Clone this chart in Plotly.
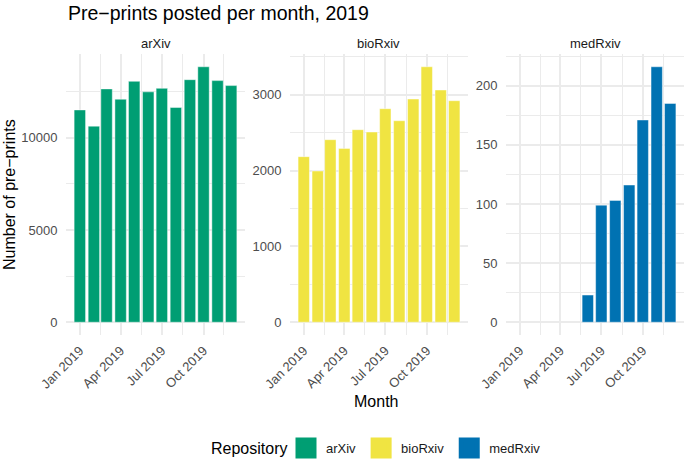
import plotly.graph_objects as go
import pandas as pd

# ---- data ----
months = ["2019-01-01", "2019-02-01", "2019-03-01", "2019-04-01", "2019-05-01", "2019-06-01",
          "2019-07-01", "2019-08-01", "2019-09-01", "2019-10-01", "2019-11-01", "2019-12-01"]
repositories = ["arXiv", "bioRxiv", "medRxiv"]
arxiv = [11510, 10630, 12650, 12090, 13060, 12490, 12680, 11640, 13150, 13850, 13100, 12830]
biorxiv = [2184, 1995, 2408, 2293, 2540, 2509, 2817, 2658, 2944, 3370, 3063, 2922]
medrxiv = [None, None, None, None, None, 23, 99, 103, 116, 171, 216, 185]
tick_vals = ["2019-01-01", "2019-04-01", "2019-07-01", "2019-10-01"]
tick_text = ["Jan 2019", "Apr 2019", "Jul 2019", "Oct 2019"]
minor_x = ["2019-02-15", "2019-05-16 12:00", "2019-08-16", "2019-11-15", "2019-12-30"]
y_dticks = [5000, 1000, 50]
colors = ["#009E73", "#F0E442", "#0072B2"]
series = [arxiv, biorxiv, medrxiv]

W, H = 685, 460
FONT = "Liberation Sans, Arial, Helvetica, sans-serif"

# panel pixel boxes (left, right)
panels_x = [(66, 245), (290, 468), (506, 684)]
panel_top, panel_bot = 54, 335

dates = pd.to_datetime(months)
bar_w = 0.9 * dates.to_series().diff().min()
lo = dates.min() - bar_w / 2
hi = dates.max() + bar_w / 2
span = hi - lo
xr = [str(lo - 0.05 * span), str(hi + 0.05 * span)]
bar_w_ms = bar_w.total_seconds() * 1000

fig = go.Figure()
layout = dict(width=W, height=H, margin=dict(l=0, r=0, t=0, b=0, autoexpand=False),
              paper_bgcolor="white", plot_bgcolor="white",
              font=dict(family=FONT, color="#4D4D4D"), showlegend=True)

annotations = []
grid = "#EBEBEB"
for i, (name, vals, col) in enumerate(zip(repositories, series, colors)):
    k = "" if i == 0 else str(i + 1)
    fig.add_trace(go.Bar(x=months, y=vals, name=name, width=bar_w_ms,
                         marker=dict(color=col, line=dict(color="rgba(255,255,255,0.55)", width=0.8)),
                         xaxis="x" + k, yaxis="y" + k, showlegend=False))
    vmax = max(v for v in vals if v is not None)
    l, r = panels_x[i]
    layout["xaxis" + k] = dict(
        domain=[l / W, r / W], anchor="y" + k, type="date", range=xr, automargin=False,
        tickmode="array", tickvals=tick_vals, ticktext=tick_text, tickangle=-45,
        tickfont=dict(size=13, color="#4D4D4D"),
        ticks="outside", ticklen=2, tickcolor="rgba(0,0,0,0)",
        showgrid=True, gridcolor=grid, gridwidth=1.5, zeroline=False, showline=False,
        minor=dict(tickmode="array", tickvals=minor_x, showgrid=True, gridcolor=grid, gridwidth=0.8),
    )
    layout["yaxis" + k] = dict(
        domain=[1 - panel_bot / H, 1 - panel_top / H], anchor="x" + k, automargin=False,
        range=[-0.05 * vmax, 1.05 * vmax], dtick=y_dticks[i], tick0=0, tickformat="d",
        tickfont=dict(size=13, color="#4D4D4D"),
        ticks="outside", ticklen=5, tickcolor="rgba(0,0,0,0)",
        showgrid=True, gridcolor=grid, gridwidth=1.5, zeroline=False, showline=False,
        minor=dict(dtick=y_dticks[i] / 2, tick0=0, showgrid=True, gridcolor=grid, gridwidth=0.8),
    )
    annotations.append(dict(text=name, x=(l + r) / 2 / W, y=1 - 43 / H, xref="paper", yref="paper",
                            xanchor="center", yanchor="middle", showarrow=False,
                            font=dict(size=13, color="#1A1A1A")))
    # legend proxy
    fig.add_trace(go.Scatter(x=[None], y=[None], mode="markers", name=name,
                             marker=dict(symbol="square", size=16, color=col,
                                         line=dict(color=col, width=5)),
                             xaxis="x", yaxis="y", showlegend=True))

annotations.append(dict(text="Month", x=375.5 / W, y=1 - 401 / H, xref="paper", yref="paper",
                        xanchor="center", yanchor="middle", showarrow=False,
                        font=dict(size=16, color="black")))
annotations.append(dict(text="Number of pre\u2212prints", x=9.5 / W, y=1 - 194.5 / H, xref="paper", yref="paper",
                        xanchor="center", yanchor="middle", showarrow=False, textangle=-90,
                        font=dict(size=16, color="black")))
annotations.append(dict(text="Repository", x=209 / W, y=1 - 448 / H, xref="paper", yref="paper",
                        xanchor="left", yanchor="middle", showarrow=False,
                        font=dict(size=16, color="black")))
annotations.append(dict(text="Pre\u2212prints posted per month, 2019", x=66 / W, y=1 - 12.5 / H,
                        xref="paper", yref="paper", xanchor="left", yanchor="middle", showarrow=False,
                        font=dict(size=19.5, color="black")))
layout["annotations"] = annotations
layout["legend"] = dict(orientation="h", x=286 / W, xanchor="left", y=1 - 448 / H, yanchor="middle",
                        font=dict(size=13, color="#1A1A1A"), itemsizing="trace",
                        bgcolor="rgba(0,0,0,0)")
fig.update_layout(**layout)
fig.write_html("out.html", config={"displayModeBar": False},
               post_script="document.body.style.margin='0px';")
